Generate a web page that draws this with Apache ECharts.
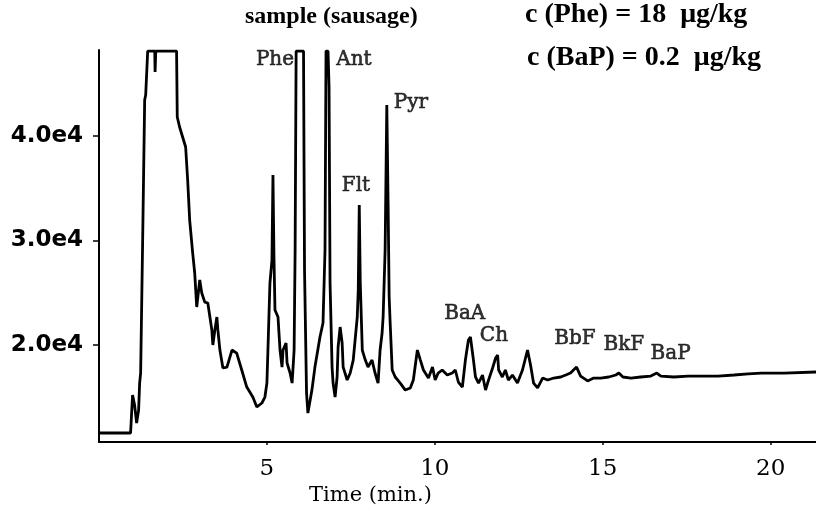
<!DOCTYPE html>
<html>
<head>
<meta charset="utf-8">
<script src="https://cdn.jsdelivr.net/npm/echarts@6/dist/echarts.min.js"></script>
<style>
  html, body { margin: 0; padding: 0; background: #fff; }
  #chart { width: 816px; height: 514px; }
</style>
</head>
<body>
<div id="chart"></div>
<script>
// retention time (min) and detector signal
var time = [0.02, 0.94, 1.00, 1.06, 1.12, 1.18, 1.21, 1.24, 1.30, 1.36, 1.39, 1.45, 1.66, 1.67, 1.69, 2.31, 2.33, 2.40, 2.58, 2.64,
  2.70, 2.79, 2.85, 2.88, 2.91, 3.00, 3.06, 3.15, 3.24, 3.36, 3.39, 3.45, 3.51, 3.54, 3.60, 3.69, 3.81, 3.96, 4.10, 4.25,
  4.40, 4.58, 4.70, 4.85, 4.94, 5.00, 5.03, 5.09, 5.15, 5.18, 5.21, 5.24, 5.33, 5.39, 5.45, 5.48, 5.57, 5.60, 5.69, 5.75,
  5.81, 5.84, 5.87, 6.09, 6.12, 6.18, 6.22, 6.34, 6.43, 6.58, 6.67, 6.73, 6.76, 6.82, 6.85, 6.88, 6.94, 6.97, 7.03, 7.09,
  7.12, 7.18, 7.24, 7.27, 7.39, 7.48, 7.57, 7.69, 7.72, 7.75, 7.78, 7.84, 7.93, 8.01, 8.13, 8.22, 8.31, 8.37, 8.43, 8.46,
  8.52, 8.57, 8.61, 8.64, 8.67, 8.73, 8.82, 8.97, 9.12, 9.27, 9.36, 9.48, 9.57, 9.66, 9.81, 9.93, 10.01, 10.10, 10.22, 10.37,
  10.52, 10.61, 10.70, 10.82, 10.91, 11.00, 11.06, 11.15, 11.21, 11.30, 11.42, 11.51, 11.60, 11.72, 11.81, 11.87, 11.90, 12.01, 12.10, 12.19,
  12.31, 12.46, 12.61, 12.76, 12.85, 12.94, 13.06, 13.21, 13.36, 13.54, 13.75, 13.90, 14.04, 14.13, 14.22, 14.34, 14.55, 14.73, 14.94, 15.18,
  15.39, 15.48, 15.60, 15.84, 16.13, 16.43, 16.61, 16.73, 17.12, 17.54, 17.93, 18.43, 18.91, 19.33, 19.72, 20.40, 21.39];

var signal = [11580, 11580, 15220, 14260, 12540, 13780, 16360, 17320, 30050, 43440, 43920, 48130, 48130, 46120, 48130, 48130, 41820, 40860, 38950, 35790,
  31960, 28800, 26890, 25260, 23640, 26220, 24980, 24110, 24020, 21440, 20000, 21440, 22680, 21440, 19520, 17800, 17890, 19520, 19230, 17610,
  15980, 15020, 14070, 14450, 15020, 16360, 19520, 25930, 28130, 36270, 28420, 23350, 22680, 19520, 17890, 19520, 20190, 18280, 17320, 16360,
  19520, 29090, 48130, 48130, 27180, 15410, 13490, 15690, 17890, 20770, 22110, 29090, 48130, 48130, 44690, 25930, 17890, 16360, 15020, 16940,
  19810, 21720, 20190, 17890, 16650, 17320, 18560, 22680, 25260, 33400, 25930, 19520, 18560, 17890, 18560, 17320, 16360, 19520, 21150, 22680,
  29090, 42970, 33210, 24590, 22110, 17610, 16940, 16360, 15690, 15890, 16650, 19520, 18560, 17610, 16840, 17890, 16650, 17320, 17610, 17130,
  17320, 17610, 16460, 15980, 18560, 20480, 20770, 18560, 16940, 16360, 17130, 15690, 16650, 17800, 18760, 19040, 17610, 16940, 17610, 16650,
  17130, 16360, 17610, 19520, 18090, 16360, 15890, 16840, 16650, 16840, 16940, 17130, 17320, 17610, 17890, 17030, 16560, 16840, 16840, 16940,
  17130, 17320, 16940, 16840, 16940, 17030, 17320, 17030, 16940, 17030, 17030, 17030, 17130, 17230, 17320, 17320, 17420];

// peak names and where their labels sit (time, signal)
var peakNames = ['Phe', 'Ant', 'Pyr', 'Flt', 'BaA', 'Ch', 'BbF', 'BkF', 'BaP'];
var peakTimes = [5.24, 7.59, 9.29, 7.65, 10.89, 11.76, 14.17, 15.63, 17.02];
var peakLevels = [47270, 47270, 43160, 35210, 22970, 20860, 20570, 20000, 19140];

var xTicks = [5, 10, 15, 20];
var yTicks = [20000, 30000, 40000];

var chart = echarts.init(document.getElementById('chart'));

var trace = time.map(function (t, i) { return [t, signal[i]]; });
var peaks = peakNames.map(function (n, i) {
  return { name: n, value: [peakTimes[i], peakLevels[i]] };
});

var serif = 'DejaVu Serif';

chart.setOption({
  animation: false,
  backgroundColor: '#fff',
  grid: { left: 99, right: 0, top: 50, bottom: 72 },
  xAxis: {
    type: 'value',
    min: 0,
    max: 21.35,
    axisLine: { onZero: false, lineStyle: { color: '#000', width: 2 } },
    axisTick: { customValues: xTicks, length: 3, lineStyle: { color: '#000', width: 1.5 } },
    axisLabel: { customValues: xTicks, color: '#000', fontFamily: serif, fontSize: 23, margin: 16 },
    splitLine: { show: false }
  },
  yAxis: {
    type: 'value',
    min: 10720,
    max: 48230,
    axisLine: { show: true, onZero: false, lineStyle: { color: '#000', width: 2 } },
    axisTick: { show: true, customValues: yTicks, length: 6, lineStyle: { color: '#000', width: 1.5 } },
    axisLabel: {
      customValues: yTicks,
      color: '#000',
      fontFamily: 'DejaVu Sans',
      fontWeight: 'bold',
      fontSize: 23,
      margin: 16,
      formatter: function (v) { return (v / 10000).toFixed(1) + 'e4'; }
    },
    splitLine: { show: false }
  },
  graphic: [
    { type: 'text', left: 245, top: 5, style: { text: 'sample (sausage)', fill: '#000', font: 'bold 24px "Liberation Serif"' } },
    { type: 'text', left: 525, top: 1, style: { text: 'c (Phe) = 18  \u03bcg/kg', fill: '#000', font: 'bold 28px "Liberation Serif"' } },
    { type: 'text', left: 527, top: 44, style: { text: 'c (BaP) = 0.2  \u03bcg/kg', fill: '#000', font: 'bold 28px "Liberation Serif"' } },
    { type: 'text', left: 309, top: 485, style: { text: 'Time (min.)', fill: '#000', font: '21px "DejaVu Serif"' } }
  ],
  series: [
    {
      type: 'line',
      data: trace,
      symbol: 'none',
      lineStyle: { color: '#000', width: 2.8 },
      silent: true
    },
    {
      type: 'scatter',
      data: peaks,
      symbolSize: 1,
      itemStyle: { color: 'rgba(0,0,0,0)' },
      label: {
        show: true,
        position: 'inside',
        formatter: '{b}',
        color: '#000',
        fontFamily: serif,
        fontSize: 20,
        textBorderColor: '#000',
        textBorderWidth: 0.6
      },
      silent: true
    }
  ]
});
</script>
</body>
</html>
